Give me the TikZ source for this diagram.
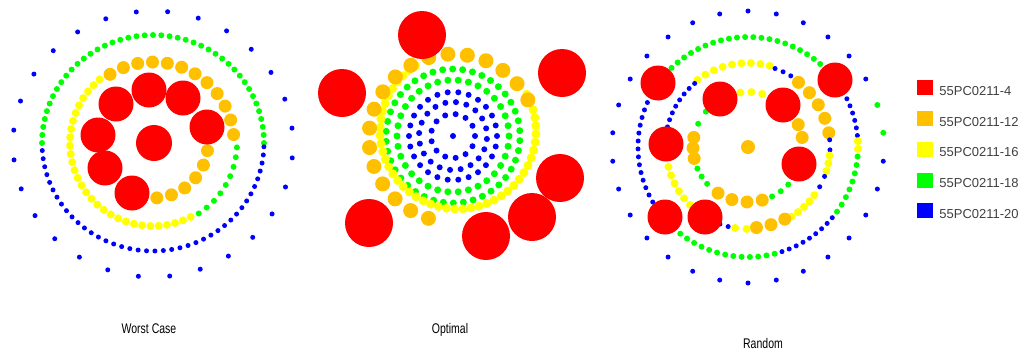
\documentclass[tikz,border=0pt]{standalone}
\usepackage{fontspec}
\setmainfont{Liberation Sans}
\newfontfamily\captionFont[FakeStretch=0.75]{Liberation Sans}
\usetikzlibrary{positioning}
\definecolor{dotRed}{RGB}{255,0,0}
\definecolor{dotOrange}{RGB}{255,192,0}
\definecolor{dotYellow}{RGB}{255,255,0}
\definecolor{dotGreen}{RGB}{0,255,0}
\definecolor{dotBlue}{RGB}{0,0,255}
\definecolor{keyText}{RGB}{64,64,64}
\tikzstyle{pixelGrid} = [x = 1pt, y = -1pt]
\tikzstyle{redDisc} = [fill=dotRed, radius=17.5pt]
\tikzstyle{orangeDot} = [fill=dotOrange, radius=6.5pt]
\tikzstyle{yellowDot} = [fill=dotYellow, radius=4pt]
\tikzstyle{greenDot} = [fill=dotGreen, radius=3pt]
\tikzstyle{blueDot} = [fill=dotBlue, radius=2.5pt]
\tikzstyle{legendBox} = [draw=none, minimum width=16pt, minimum height=15pt, inner sep=0pt]
\tikzstyle{legendText} = [font=\fontsize{13}{15}\selectfont, text=keyText, inner sep=0pt, anchor=base west]
\tikzstyle{caseLabel} = [font=\captionFont\fontsize{14}{16}\selectfont, inner sep=0pt, anchor=base]
\newcommand{\dotArc}[7]{
  \foreach \k in {1,...,#7} {
    \pgfmathsetmacro{\ang}{#5 + (#6 - #5) * (\k - 1) / max(#7 - 1, 1)}
    \fill [#1] (#2, #3) ++ (\ang:#4) circle [];
  }
}
\newcommand{\dotRing}[6]{
  \foreach \k in {1,...,#5} {
    \pgfmathsetmacro{\ang}{#6 + 360 * (\k - 1) / #5}
    \fill [#1] (#2, #3) ++ (\ang:#4) circle [];
  }
}
\newcommand{\redDiscs}[2]{
  \foreach \px/\py in {#2} {
    \fill [redDisc, #1] (\px, \py) circle [];
  }
}

\begin{document}
\begin{tikzpicture}[pixelGrid]
  \useasboundingbox (0,0) rectangle (1026,354);

  \dotRing{blueDot}{153}{144}{140 and 133}{28}{6}
  \dotArc{greenDot}{153}{143}{111 and 108}{180}{360}{43}
  \dotArc{blueDot}{153}{143}{111 and 108}{2}{176}{41}
  \dotArc{greenDot}{153}{143}{84}{3}{57}{9}
  \dotArc{yellowDot}{153}{143}{83}{63}{230}{30}
  \dotArc{orangeDot}{153}{143}{81}{238}{354}{12}
  \dotArc{orangeDot}{153}{143}{55}{8}{86}{6}
  \redDiscs{}{116/104,149/90,183/98,207/127,98/135,105/168,132/193}
  \redDiscs{radius=18pt}{154/143}

  \fill [blueDot, radius=3pt] (453,136) circle [];
  \dotRing{blueDot, radius=3pt}{453}{136}{22}{13}{0}
  \dotRing{blueDot, radius=3pt}{453}{136}{34}{20}{5}
  \dotRing{blueDot, radius=3pt}{453}{136}{44}{26}{0}
  \dotRing{greenDot, radius=3.5pt}{453}{136}{56}{34}{0}
  \dotRing{greenDot, radius=3.5pt}{453}{136}{67}{42}{4}
  \dotArc{yellowDot, radius=4.5pt}{458}{131}{78}{-28}{237}{45}
  \dotArc{orangeDot, radius=7.5pt}{453}{138}{84}{333}{107}{18}
  \redDiscs{radius=24pt}{422/35,562/73,342/93,560/178,532/217,486/236,369/223}

  \dotArc{blueDot}{748}{147}{136}{6}{330}{28}
  \dotArc{greenDot}{748}{147}{136}{342}{354}{2}
  \dotArc{greenDot}{748}{147}{110}{226}{311}{21}
  \dotArc{blueDot}{748}{147}{110}{330}{354}{7}
  \dotArc{yellowDot}{748}{147}{110}{357}{361}{2}
  \dotArc{greenDot}{748}{147}{110}{365}{396}{8}
  \dotArc{blueDot}{748}{147}{110}{40}{72}{9}
  \dotArc{greenDot}{748}{147}{110}{76}{128}{13}
  \dotArc{blueDot}{748}{147}{110}{150}{208}{15}
  \dotArc{yellowDot}{748}{147}{84}{233}{285}{9}
  \dotArc{blueDot}{748}{147}{83}{289}{301}{3}
  \dotArc{orangeDot}{748}{147}{82}{308}{350}{5}
  \dotArc{blueDot}{748}{147}{82}{355}{362}{2}
  \dotArc{yellowDot}{748}{147}{82}{366}{377}{3}
  \dotArc{blueDot}{748}{147}{82}{21}{29}{2}
  \dotArc{yellowDot}{748}{147}{82}{36}{58}{5}
  \dotArc{orangeDot}{748}{147}{81}{63}{84}{3}
  \dotArc{yellowDot}{748}{147}{82}{91}{99}{2}
  \dotArc{blueDot}{748}{147}{82}{104}{110}{2}
  \dotArc{yellowDot}{748}{147}{82}{135}{166}{6}
  \dotArc{blueDot}{748}{147}{83}{194}{230}{8}
  \dotArc{orangeDot}{748}{147}{55}{168}{190}{3}
  \dotArc{greenDot}{748}{147}{55}{205}{220}{2}
  \dotArc{yellowDot}{748}{147}{55}{262}{285}{3}
  \dotArc{orangeDot}{748}{147}{55}{336}{350}{2}
  \dotArc{greenDot}{748}{147}{55}{43}{64}{3}
  \dotArc{orangeDot}{748}{147}{55}{75}{123}{4}
  \dotArc{greenDot}{748}{147}{55}{138}{157}{3}
  \fill [orangeDot, radius=7pt] (748,147) circle [];
  \redDiscs{}{658/83,720/99,783/105,835/80,666/144,799/164,665/217,705/217}

  \node [caseLabel] (worstLabel) at (149,333) {Worst Case};
  \node [caseLabel] (optimalLabel) at (450,333) {Optimal};
  \node [caseLabel] (randomLabel) at (763,348) {Random};

  \foreach \col/\txt [count=\i] in {dotRed/55PC0211-4, dotOrange/55PC0211-12, dotYellow/55PC0211-16, dotGreen/55PC0211-18, dotBlue/55PC0211-20} {
    \node [legendBox, fill=\col] (key\i) at (925, 57 + 30.75 * \i) {};
    \node [legendText] (keyText\i) at ([xshift=6pt]key\i.south east) {\txt};
  }
\end{tikzpicture}
\end{document}
